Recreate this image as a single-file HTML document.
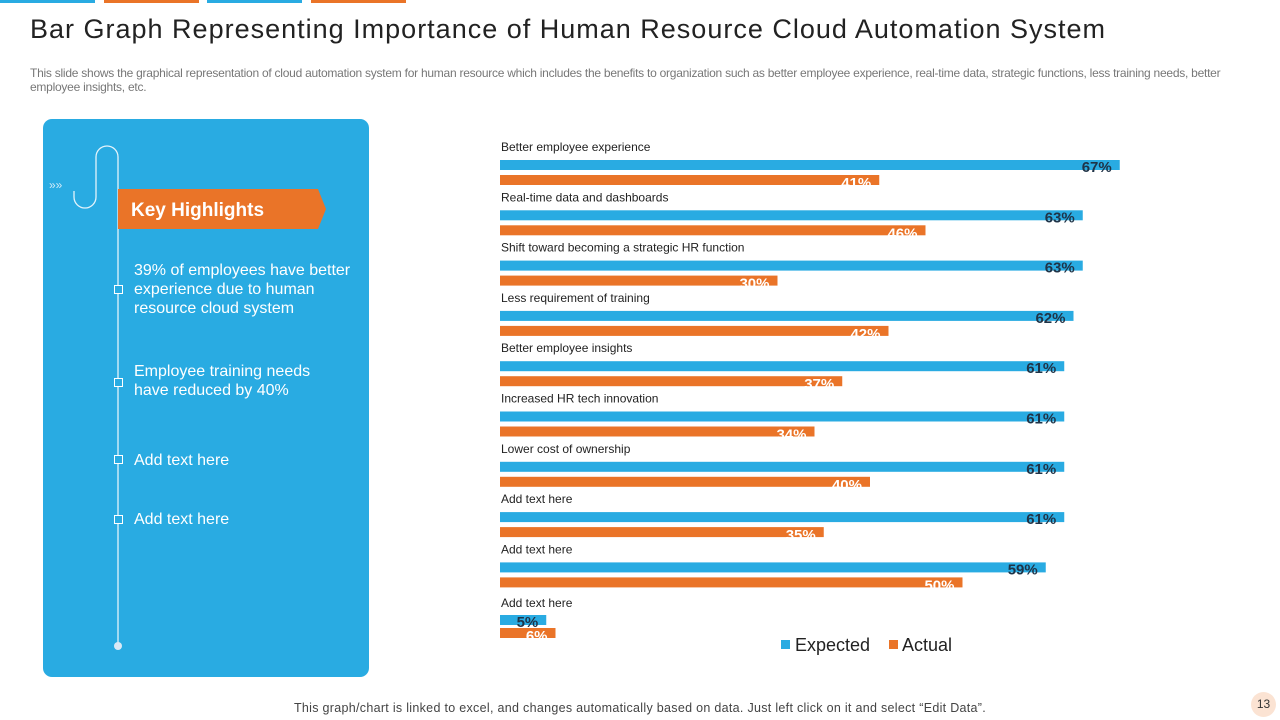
<!DOCTYPE html>
<html><head><meta charset="utf-8">
<style>
body{margin:0;width:1280px;height:720px;background:#fff;position:relative;overflow:hidden;font-family:"Liberation Sans",sans-serif}
.abs{position:absolute}
.strip{position:absolute;top:0;height:3px;width:95px}
.hl{position:absolute;left:134px;color:#fff;font-size:16px;line-height:19px}
.sq{position:absolute;left:114px;width:7px;height:7px;border:1px solid #fff;background:#29abe2}
</style></head><body>
<div class="strip" style="left:0;background:#29abe2"></div>
<div class="strip" style="left:104px;background:#ea7428"></div>
<div class="strip" style="left:207px;background:#29abe2"></div>
<div class="strip" style="left:311px;background:#ea7428"></div>
<div class="abs" style="left:30px;top:14px;font-size:27px;color:#222;letter-spacing:1px;white-space:nowrap">Bar Graph Representing Importance of Human Resource Cloud Automation System</div>
<div class="abs" style="left:30px;top:66px;width:1212px;font-size:12px;line-height:14px;color:#777;letter-spacing:-0.25px">This slide shows the graphical representation of cloud automation system for human resource which includes the benefits to organization such as better employee experience, real-time data, strategic functions, less training needs, better employee insights, etc.</div>

<div class="abs" style="left:43px;top:119px;width:326px;height:558px;background:#29abe2;border-radius:9px">
<svg width="326" height="558" style="position:absolute;left:0;top:0">
<text x="6" y="70" fill="#cfeaf8" font-size="12" font-family="Liberation Sans">»»</text>
<path d="M75 526 V38 A11 11 0 0 0 53 38 V78 A11 11 0 0 1 31 78 V72" fill="none" stroke="#e3f3fb" stroke-width="1.3"/>
<circle cx="75" cy="527" r="4" fill="#dbe9f5"/>
</svg>
</div>
<div class="sq" style="top:285px"></div>
<div class="sq" style="top:378px"></div>
<div class="sq" style="top:455px"></div>
<div class="sq" style="top:515px"></div>
<svg class="abs" style="left:118px;top:189px" width="210" height="40"><polygon points="0,0 200,0 208,20 200,40 0,40" fill="#ea7428"/><text x="13" y="27" fill="#fff" font-size="19" font-weight="bold" font-family="Liberation Sans">Key Highlights</text></svg>
<div class="hl" style="top:261px">39% of employees have better<br>experience due to human<br>resource cloud system</div>
<div class="hl" style="top:362px">Employee training needs<br>have reduced by 40%</div>
<div class="hl" style="top:451px">Add text here</div>
<div class="hl" style="top:510px">Add text here</div>

<svg id="chart" class="abs" style="left:0;top:0" width="1280" height="720"></svg>

<div class="abs" style="left:0;width:1280px;top:701px;text-align:center;font-size:12.5px;letter-spacing:0.3px;color:#444">This graph/chart is linked to excel, and changes automatically based on data. Just left click on it and select “Edit Data”.</div>
<div class="abs" style="left:1251px;top:692px;width:25px;height:25px;border-radius:50%;background:#fbe3d3;font-size:12px;color:#333;text-align:center;line-height:25px">13</div>

<script>
const categories=["Better employee experience","Real-time data and dashboards","Shift toward becoming a strategic HR function","Less requirement of training","Better employee insights","Increased HR tech innovation","Lower cost of ownership","Add text here","Add text here","Add text here"];
const expected=[67,63,63,62,61,61,61,61,59,5];
const actual=[41,46,30,42,37,34,40,35,50,6];
const svg=document.getElementById('chart');
const NS="http://www.w3.org/2000/svg";
const x0=500, pxPer=9.25;
const xs=v=>v*pxPer;
const gy=i=>i<9?146+i*50.3:602;
function mk(tag,attrs){const e=document.createElementNS(NS,tag);for(const k in attrs)e.setAttribute(k,attrs[k]);svg.appendChild(e);return e;}
categories.forEach((c,i)=>{
  const top=gy(i);
  const bOff=i<9?14:13, oOff=i<9?29:26;
  const lab=mk('text',{x:501,y:top+5,'font-size':12,fill:'#222','font-family':'Liberation Sans'});lab.textContent=c;
  
  
  const b=mk('rect',{x:x0,y:top+bOff,width:xs(expected[i]),height:10,fill:'#29abe2'});
  
  
  const o=mk('rect',{x:x0,y:top+oOff,width:xs(actual[i]),height:10,fill:'#ea7428'});
  
  
  const bt=mk('text',{x:x0+xs(expected[i])-8,y:top+bOff+12,'text-anchor':'end','font-size':15,'font-weight':'bold',fill:'#1f3347','font-family':'Liberation Sans'});bt.textContent=expected[i]+'%';
  
  
  const ot=mk('text',{x:x0+xs(actual[i])-8,y:top+oOff+13,'text-anchor':'end','font-size':15,'font-weight':'bold',fill:'#fff','font-family':'Liberation Sans'});ot.textContent=actual[i]+'%';
  
  
});
const l1=mk('rect',{x:781,y:640,width:9,height:9,fill:'#29abe2'});


const t1=mk('text',{x:795,y:651,'font-size':18,fill:'#222','font-family':'Liberation Sans'});t1.textContent='Expected';


const l2=mk('rect',{x:889,y:640,width:9,height:9,fill:'#ea7428'});


const t2=mk('text',{x:902,y:651,'font-size':18,fill:'#222','font-family':'Liberation Sans'});t2.textContent='Actual';


</script>
</body></html>
